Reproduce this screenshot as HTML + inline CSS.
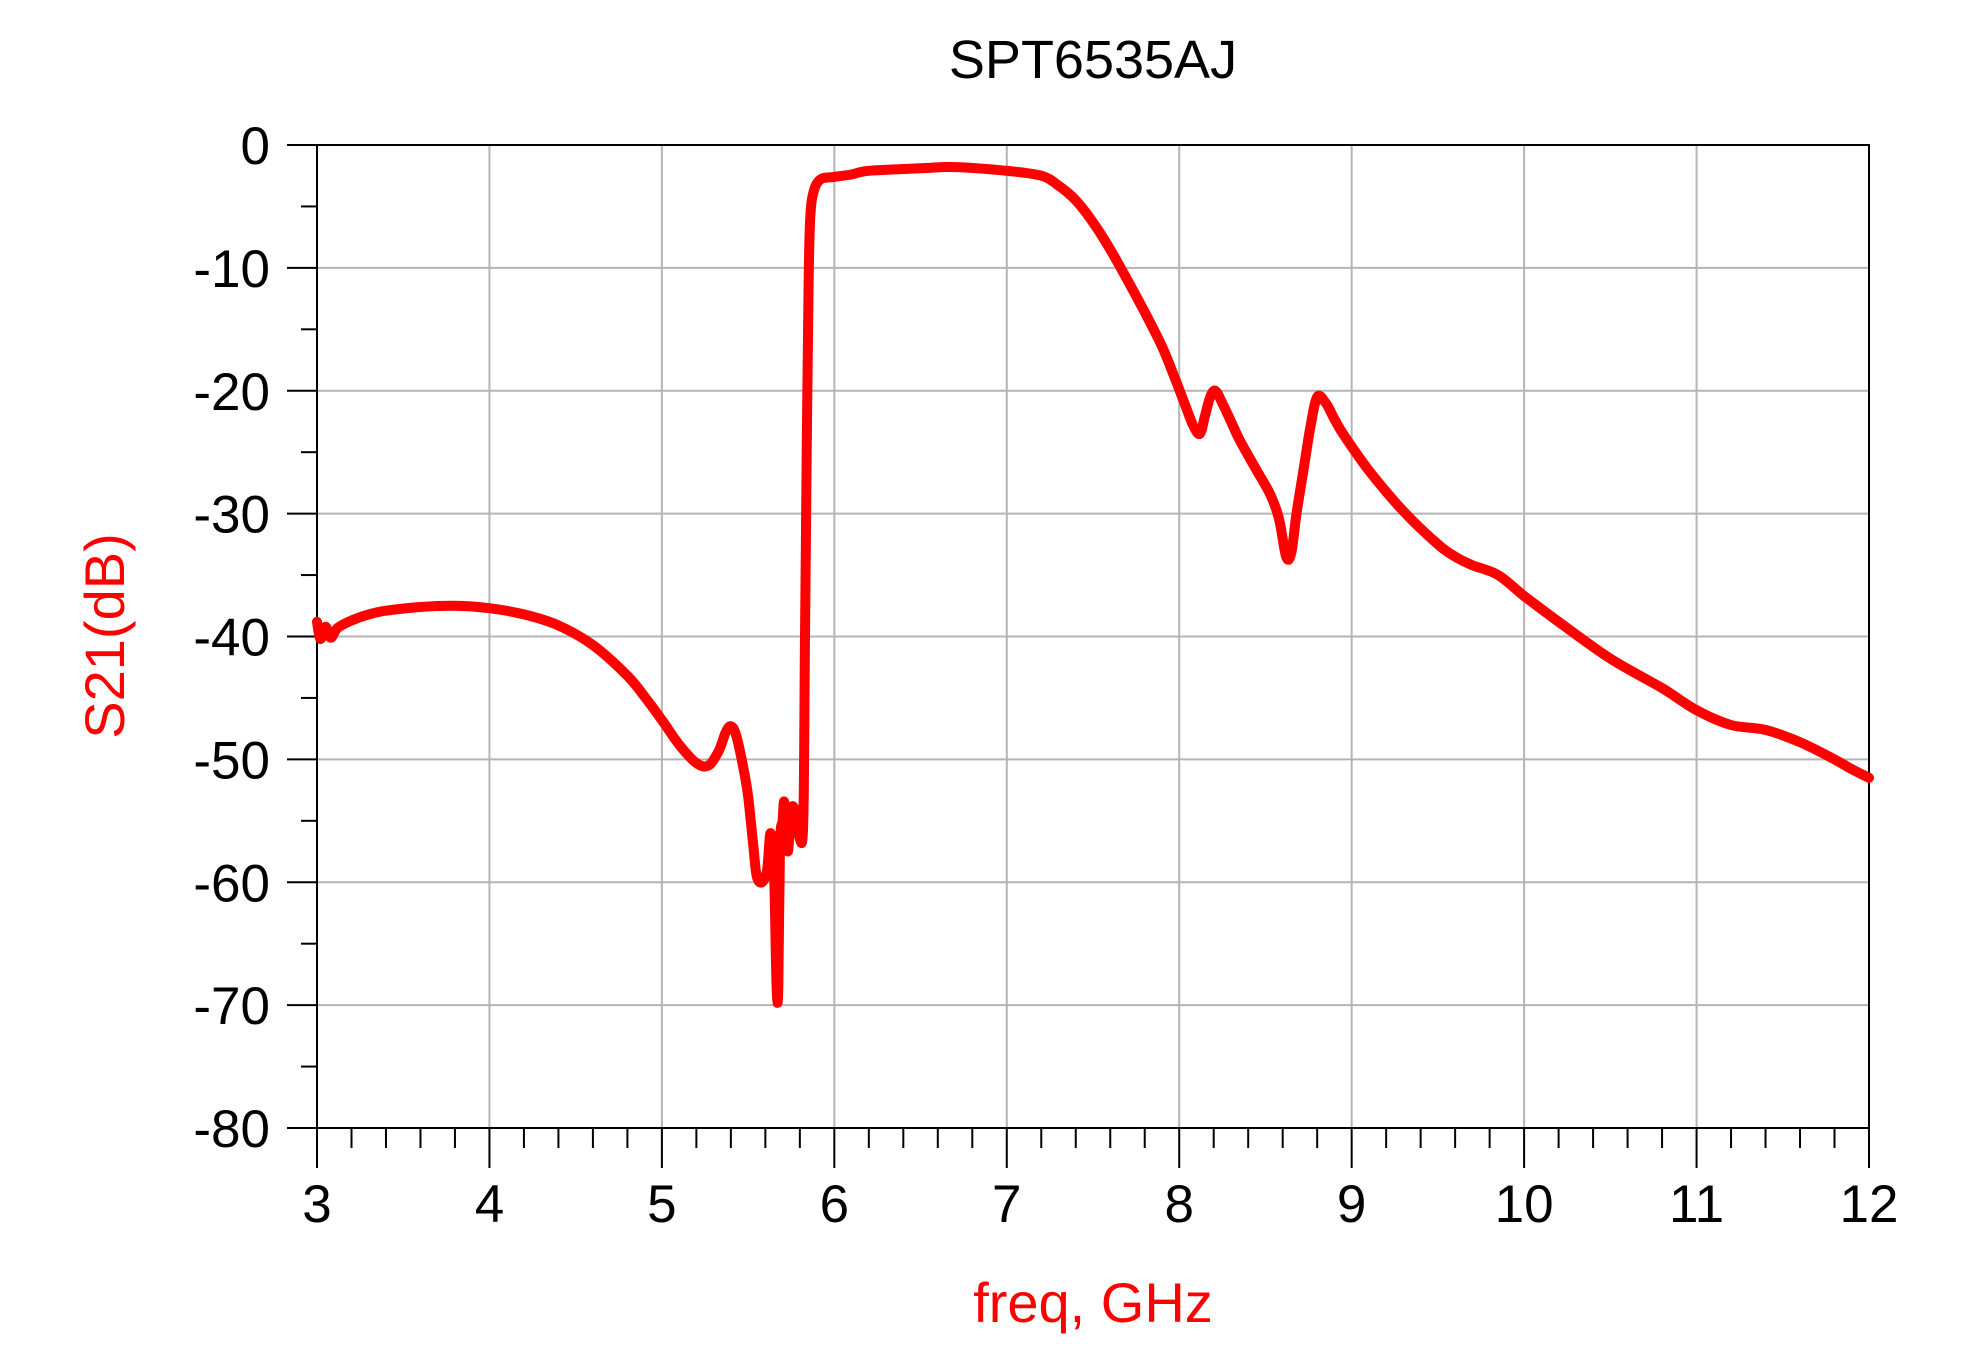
<!DOCTYPE html>
<html><head><meta charset="utf-8"><style>
html,body{margin:0;padding:0;background:#fff;}
svg{display:block;}
text{font-family:"Liberation Sans",Arial,sans-serif;}
</style></head><body>
<svg id="s" width="1975" height="1363" viewBox="0 0 1975 1363" xmlns="http://www.w3.org/2000/svg">
<rect width="1975" height="1363" fill="#fff"/>
<g id="grid" stroke="#b4b4b4" stroke-width="2"></g>
<g id="ticks" stroke="#000" stroke-width="2"></g>
<rect x="317" y="145" width="1552" height="983" fill="none" stroke="#000" stroke-width="2"/>
<g id="labels" font-size="53" fill="#000"></g>
<text x="1093" y="78" font-size="54" text-anchor="middle" fill="#000">SPT6535AJ</text>
<text x="1093" y="1322" font-size="56" text-anchor="middle" fill="#ff0000">freq, GHz</text>
<text transform="translate(124,636) rotate(-90)" font-size="56" text-anchor="middle" fill="#ff0000">S21(dB)</text>
<path id="curve" fill="none" stroke="#ff0000" stroke-width="10" stroke-linejoin="round" stroke-linecap="round"/>
</svg>
<script>
var L=317,R=1869,T=145,B=1128;
function X(f){return L+(f-3)*(R-L)/9;}
function Y(d){return T-d*(B-T)/80;}
var NS="http://www.w3.org/2000/svg";
function el(p,n,a,t){var e=document.createElementNS(NS,n);for(var k in a)e.setAttribute(k,a[k]);if(t!==undefined)e.textContent=t;document.getElementById(p).appendChild(e);}
for(var f=4;f<12;f++)el("grid","line",{x1:X(f),y1:T,x2:X(f),y2:B});
for(var d=-10;d>-80;d-=10)el("grid","line",{x1:L,y1:Y(d),x2:R,y2:Y(d)});
for(var i=0;i<=45;i++){var f=3+i*0.2;var maj=(i%5==0);el("ticks","line",{x1:X(f),y1:B,x2:X(f),y2:B+(maj?40:20)});}
for(var d=0;d>=-80;d-=5){var maj=(d%10==0);el("ticks","line",{x1:L-(maj?30:16),y1:Y(d),x2:L,y2:Y(d)});}
for(var d=0;d>=-80;d-=10)el("labels","text",{x:270,y:Y(d)+19,"text-anchor":"end"},String(d));
for(var f=3;f<=12;f++)el("labels","text",{x:X(f),y:1222,"text-anchor":"middle"},String(f));
var data=[[3.0,-38.8],[3.02,-40.2],[3.05,-39.2],[3.08,-40.1],[3.12,-39.3],[3.2,-38.7],[3.3,-38.2],[3.4,-37.9],[3.6,-37.6],[3.8,-37.5],[4.0,-37.7],[4.2,-38.2],[4.4,-39.1],[4.6,-40.7],[4.8,-43.2],[4.9,-44.9],[5.0,-46.8],[5.1,-48.8],[5.2,-50.3],[5.27,-50.5],[5.33,-49.3],[5.37,-47.8],[5.4,-47.3],[5.43,-48],[5.47,-50.5],[5.5,-53],[5.53,-57],[5.55,-59.5],[5.58,-60],[5.61,-59],[5.63,-56],[5.65,-59],[5.665,-68.5],[5.675,-68.5],[5.685,-57],[5.70,-55],[5.71,-53.5],[5.73,-57.5],[5.75,-54],[5.78,-54.5],[5.8,-56.5],[5.82,-55],[5.83,-40],[5.84,-25],[5.85,-12],[5.86,-6],[5.88,-3.8],[5.92,-2.8],[6.0,-2.6],[6.1,-2.4],[6.2,-2.1],[6.5,-1.9],[6.7,-1.8],[7.0,-2.1],[7.2,-2.5],[7.3,-3.3],[7.4,-4.5],[7.5,-6.3],[7.6,-8.5],[7.7,-11],[7.8,-13.6],[7.9,-16.4],[7.97,-18.8],[8.03,-21],[8.08,-22.8],[8.12,-23.5],[8.15,-22],[8.18,-20.5],[8.21,-20],[8.25,-21],[8.3,-22.5],[8.35,-24],[8.45,-26.5],[8.53,-28.5],[8.58,-30.5],[8.62,-33.5],[8.65,-33.2],[8.68,-30],[8.72,-26.5],[8.76,-23],[8.8,-20.5],[8.85,-21],[8.9,-22.3],[8.95,-23.5],[9.1,-26.5],[9.3,-29.8],[9.5,-32.5],[9.6,-33.5],[9.7,-34.2],[9.85,-35],[10.0,-36.7],[10.2,-38.8],[10.5,-41.8],[10.8,-44.2],[11.0,-46],[11.2,-47.2],[11.4,-47.6],[11.6,-48.6],[11.8,-50],[11.9,-50.8],[12.0,-51.5]];
var pts=data.map(function(p){return [X(p[0]),Y(p[1])];});
var d="M"+pts[0][0].toFixed(1)+","+pts[0][1].toFixed(1);
for(var i=0;i<pts.length-1;i++){var p0=pts[Math.max(0,i-1)],p1=pts[i],p2=pts[i+1],p3=pts[Math.min(pts.length-1,i+2)];
var c1x=p1[0]+(p2[0]-p0[0])/6,c1y=p1[1]+(p2[1]-p0[1])/6,c2x=p2[0]-(p3[0]-p1[0])/6,c2y=p2[1]-(p3[1]-p1[1])/6;
d+=" C"+c1x.toFixed(1)+","+c1y.toFixed(1)+" "+c2x.toFixed(1)+","+c2y.toFixed(1)+" "+p2[0].toFixed(1)+","+p2[1].toFixed(1);}
document.getElementById("curve").setAttribute("d",d);
</script>
</body></html>
